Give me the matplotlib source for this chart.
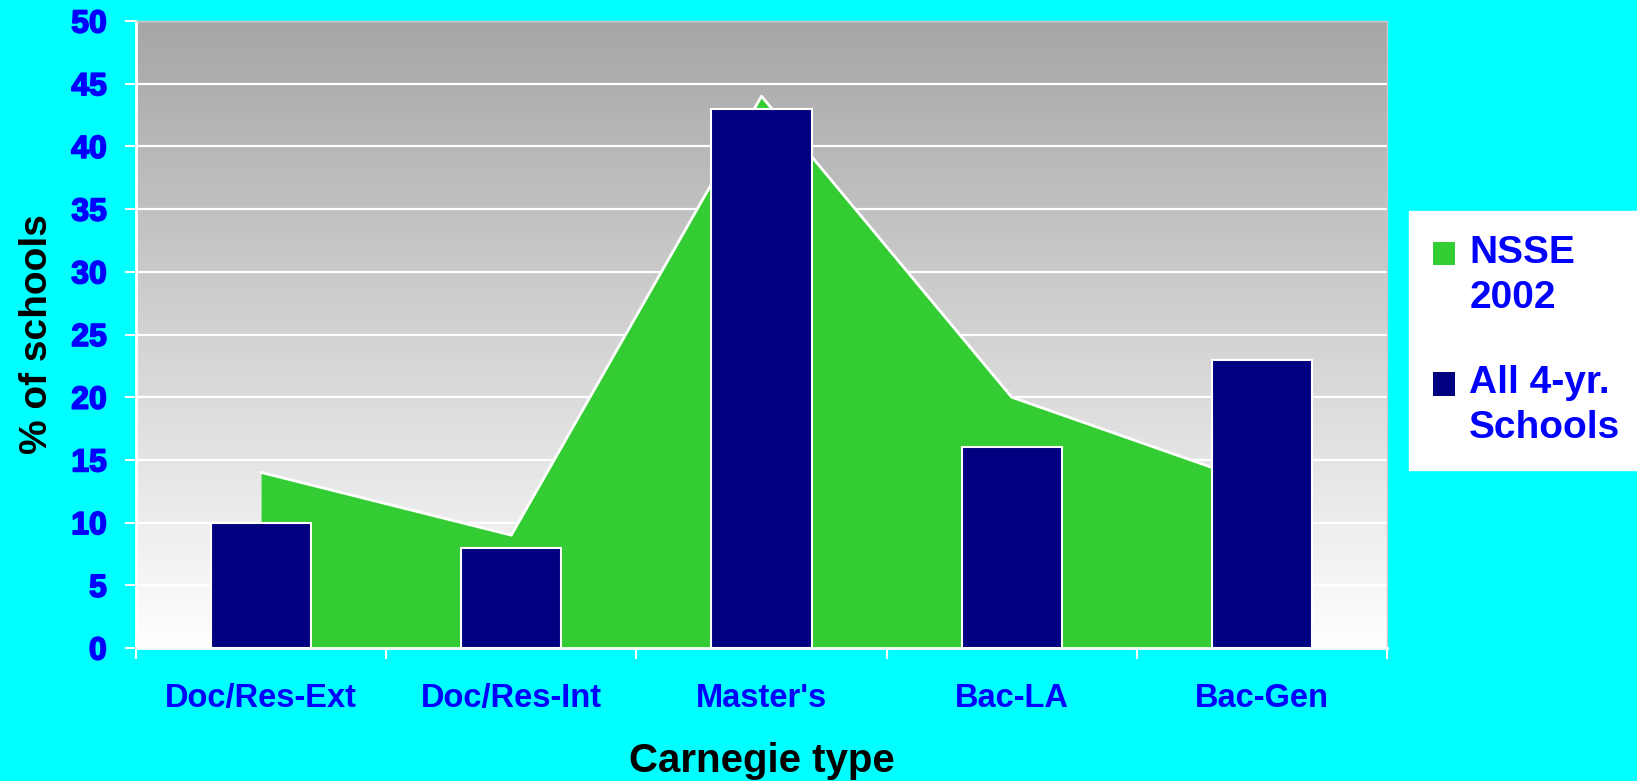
import numpy as np
import matplotlib
matplotlib.use("Agg")
import matplotlib.pyplot as plt
import matplotlib.patheffects as pe
from matplotlib.patches import Rectangle
from matplotlib.legend_handler import HandlerPatch

plt.rcParams['font.family'] = ['Liberation Sans', 'DejaVu Sans']

categories = ["Doc/Res-Ext", "Doc/Res-Int", "Master's", "Bac-LA", "Bac-Gen"]
nsse_2002 = [14, 9, 44, 20, 13]
all_4yr = [10, 8, 43, 16, 23]
series_labels = ["NSSE\n2002", "All 4-yr.\nSchools"]
y_ticks = [0, 5, 10, 15, 20, 25, 30, 35, 40, 45, 50]

W, H = 1637, 781
fig = plt.figure(figsize=(W / 100, H / 100), dpi=100)
fig.patch.set_facecolor('#00ffff')

ax = fig.add_axes([136 / W, 1 - 648 / H, (1387 - 136) / W, (648 - 21) / H])
x = np.arange(len(categories))
xlim = (-0.5, len(categories) - 0.5)
ylim = (0, 50)

# gray-to-white vertical gradient behind the plot (gray at the top)
grad = np.linspace(0, 1, 256).reshape(-1, 1, 1)
top_c = np.array([166, 166, 166]) / 255
bot_c = np.array([255, 255, 255]) / 255
img = top_c + (bot_c - top_c) * grad * np.ones((1, 2, 1))
ax.imshow(img, extent=[xlim[0], xlim[1], ylim[0], ylim[1]], origin='upper',
          aspect='auto', zorder=0, interpolation='bilinear')
ax.set_xlim(*xlim)
ax.set_ylim(*ylim)

ax.set_axisbelow(True)
ax.yaxis.grid(True, color='white', linewidth=1.6)
ax.set_yticks(y_ticks)

area = ax.fill_between(x, nsse_2002, 0, color='#33cc33', linewidth=0, zorder=1)
ax.plot(x, nsse_2002, color='white', linewidth=2, zorder=1.5)
bars = ax.bar(x, all_4yr, width=0.4, color='#000080', edgecolor='white',
              linewidth=1.5, zorder=2)

# category boundaries carry tick marks, centers carry labels
ax.set_xticks(np.arange(-0.5, len(categories), 1.0))
ax.set_xticklabels([])
ax.set_xticks(x, minor=True)
ax.set_xticklabels(categories, minor=True)
ax.tick_params(axis='x', which='major', direction='inout', length=16,
               width=1.5, color='white')
ax.tick_params(axis='x', which='minor', length=0, pad=25,
               labelsize=23.5, labelcolor='#0000ff')
for t in ax.get_xticklabels(minor=True):
    t.set_fontweight('bold')

ax.tick_params(axis='y', direction='out', length=8, width=1.5, color='white',
               pad=13, labelsize=23, labelcolor='#0000ff')
for t in ax.get_yticklabels():
    t.set_fontweight('bold')
    t.set_path_effects([pe.withStroke(linewidth=1.2, foreground='#0000ff')])

for side in ('left', 'bottom'):
    ax.spines[side].set_color('white')
    ax.spines[side].set_linewidth(2)
for side in ('top', 'right'):
    ax.spines[side].set_color('#c8c8c8')
    ax.spines[side].set_linewidth(1)

ax.set_xlabel('Carnegie type', fontsize=29, fontweight='bold', color='black',
              labelpad=20)
ax.set_ylabel('% of schools', fontsize=28, fontweight='bold', color='black',
              labelpad=12)


def top_aligned_square(legend, orig_handle, xdescent, ydescent, width, height,
                       fontsize):
    # place the swatch beside the first line of a two-line label
    return Rectangle((-xdescent, -ydescent + 0.56 * fontsize), width, height)


swatches = [Rectangle((0, 0), 1, 1, facecolor=area.get_facecolor()[0],
                      edgecolor='none'),
            Rectangle((0, 0), 1, 1, facecolor=bars.patches[0].get_facecolor(),
                      edgecolor='none')]

leg_fs = 28
leg = fig.legend(swatches, series_labels, loc='upper left',
                 bbox_to_anchor=(1409 / W, 1 - 211 / H),
                 fontsize=leg_fs, frameon=True, fancybox=False,
                 facecolor='white', edgecolor='white', framealpha=1,
                 handlelength=0.55, handleheight=0.55, handletextpad=0.38,
                 labelspacing=1.28, borderpad=0.62, borderaxespad=0,
                 handler_map={Rectangle: HandlerPatch(patch_func=top_aligned_square)})
for t in leg.get_texts():
    t.set_color('#0000ff')
    t.set_fontweight('bold')
    t.set_linespacing(1.3)

fig.savefig('out.png', dpi=100, facecolor=fig.get_facecolor())
